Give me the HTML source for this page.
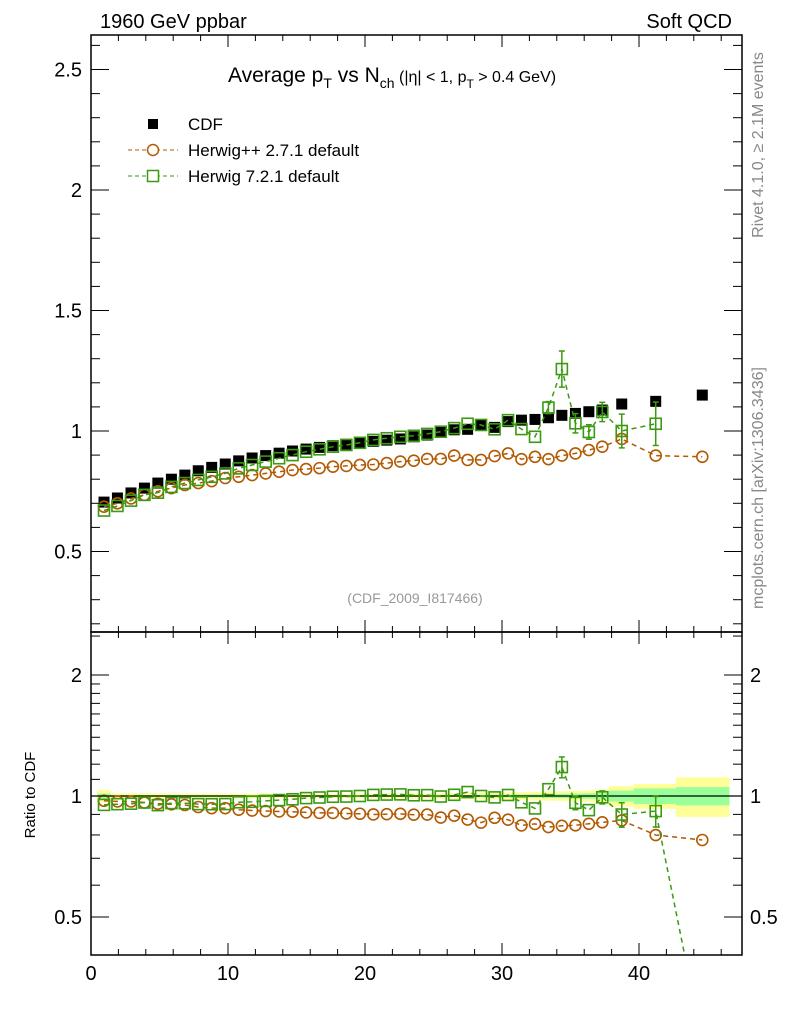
<!DOCTYPE html>
<html><head><meta charset="utf-8"><style>
html,body{margin:0;padding:0;background:#fff;width:786px;height:1024px;overflow:hidden;}
svg{display:block;font-family:"Liberation Sans",Arial,sans-serif;}
</style></head><body>
<svg id="chart" width="786" height="1024" viewBox="0 0 786 1024" xmlns="http://www.w3.org/2000/svg">
<text x="100" y="28" font-size="20">1960 GeV ppbar</text>
<text x="732" y="28" font-size="20" text-anchor="end">Soft QCD</text>
<text transform="translate(763,145) rotate(-90)" font-size="16" fill="#888" text-anchor="middle">Rivet 4.1.0, ≥ 2.1M events</text>
<text transform="translate(763,488) rotate(-90)" font-size="16" fill="#888" text-anchor="middle">mcplots.cern.ch [arXiv:1306.3436]</text>
<text x="228" y="82" font-size="21">Average p<tspan font-size="14" dy="6">T</tspan><tspan dy="-6"> vs N</tspan><tspan font-size="14" dy="6">ch</tspan><tspan dy="-6" font-size="16"> (|η| &lt; 1, p</tspan><tspan font-size="12" dy="6">T</tspan><tspan dy="-6" font-size="16"> &gt; 0.4 GeV)</tspan></text>
<text x="415" y="603" font-size="14" fill="#999" text-anchor="middle">(CDF_2009_I817466)</text>
<text transform="translate(35,795) rotate(-90)" font-size="15" text-anchor="middle">Ratio to CDF</text>
<g id="legend">
 <g><rect x="148" y="119" width="10" height="10" fill="#000"/><text x="188" y="130" font-size="17">CDF</text></g>
 <g><line x1="128" y1="150" x2="178" y2="150" stroke="#b35900" stroke-dasharray="4,3"/><circle cx="153" cy="150" r="5.5" fill="#fff" stroke="#b35900" stroke-width="1.5"/><text x="188" y="156" font-size="17">Herwig++ 2.7.1 default</text></g>
 <g><line x1="128" y1="176" x2="178" y2="176" stroke="#3a9a10" stroke-dasharray="4,3"/><rect x="147.5" y="170.5" width="11" height="11" fill="#fff" stroke="#3a9a10" stroke-width="1.5"/><text x="188" y="182" font-size="17">Herwig 7.2.1 default</text></g>
</g>
<g id="g"></g>
</svg>
<script>
const xs=[0.95,1.93,2.92,3.90,4.88,5.87,6.85,7.83,8.81,9.80,10.78,11.76,12.75,13.73,14.71,15.70,16.68,17.66,18.64,19.63,20.61,21.59,22.58,23.56,24.54,25.53,26.51,27.49,28.47,29.46,30.44,31.42,32.41,33.39,34.37,35.36,36.34,37.32,38.74,41.22,44.62];
const binLo=[0.45,1.44,2.42,3.41,4.39,5.37,6.36,7.34,8.32,9.31,10.29,11.27,12.26,13.24,14.22,15.21,16.19,17.17,18.15,19.14,20.12,21.10,22.09,23.07,24.05,25.04,26.02,27.00,27.98,28.97,29.95,30.93,31.92,32.90,33.88,34.87,35.85,36.83,37.8,39.6,42.7];
const binHi=[1.44,2.42,3.41,4.39,5.37,6.36,7.34,8.32,9.31,10.29,11.27,12.26,13.24,14.22,15.21,16.19,17.17,18.15,19.14,20.12,21.10,22.09,23.07,24.05,25.04,26.02,27.00,27.98,28.97,29.95,30.93,31.92,32.90,33.88,34.87,35.85,36.83,37.8,39.6,42.7,46.6];
const cdf=[0.705,0.722,0.743,0.763,0.784,0.80,0.817,0.835,0.849,0.863,0.876,0.888,0.898,0.908,0.917,0.925,0.932,0.939,0.945,0.951,0.957,0.962,0.967,0.976,0.983,1.0,1.005,1.007,1.025,1.015,1.039,1.045,1.048,1.055,1.065,1.073,1.08,1.087,1.112,1.123,1.149];
const cdfStat=[0.01,0.004,0.004,0.004,0.004,0.004,0.004,0.004,0.004,0.004,0.004,0.004,0.004,0.004,0.004,0.004,0.004,0.004,0.004,0.004,0.005,0.005,0.005,0.005,0.005,0.006,0.006,0.006,0.007,0.008,0.008,0.009,0.01,0.012,0.013,0.015,0.017,0.02,0.035,0.05,0.06];
const cdfTot=[0.025,0.012,0.012,0.012,0.012,0.012,0.012,0.012,0.012,0.012,0.012,0.012,0.012,0.012,0.012,0.012,0.012,0.012,0.012,0.013,0.013,0.014,0.014,0.015,0.015,0.016,0.017,0.018,0.019,0.02,0.022,0.024,0.026,0.028,0.03,0.032,0.035,0.04,0.065,0.08,0.13];
const hpp=[0.686,0.70,0.72,0.735,0.75,0.763,0.776,0.784,0.792,0.805,0.81,0.817,0.824,0.831,0.838,0.842,0.846,0.852,0.855,0.859,0.861,0.867,0.873,0.877,0.884,0.884,0.898,0.88,0.88,0.896,0.907,0.883,0.893,0.883,0.898,0.907,0.921,0.935,0.967,0.898,0.893];
const hppErr=[0.003,0.003,0.003,0.003,0.003,0.003,0.003,0.003,0.003,0.003,0.003,0.003,0.003,0.003,0.003,0.003,0.003,0.003,0.003,0.003,0.004,0.004,0.005,0.005,0.016,0.005,0.006,0.006,0.007,0.007,0.007,0.008,0.008,0.008,0.009,0.01,0.01,0.012,0.015,0.01,0.01];
const h7=[0.67,0.689,0.711,0.735,0.744,0.768,0.784,0.797,0.81,0.824,0.845,0.859,0.873,0.887,0.90,0.914,0.924,0.935,0.942,0.951,0.963,0.97,0.976,0.98,0.988,0.997,1.012,1.03,1.025,1.007,1.045,1.008,0.976,1.097,1.257,1.032,0.996,1.079,1.0,1.03,0.28];
const h7Err=[0.003,0.003,0.003,0.003,0.003,0.003,0.003,0.003,0.003,0.003,0.003,0.003,0.004,0.004,0.004,0.004,0.005,0.005,0.005,0.006,0.006,0.006,0.007,0.007,0.008,0.008,0.01,0.012,0.012,0.013,0.015,0.018,0.02,0.025,0.075,0.04,0.03,0.04,0.07,0.09,0.05];
const h7MainCount=40;
const mainTicks=[0.5,1,1.5,2,2.5];
const mainTickLabels=["0.5","1","1.5","2","2.5"];
const ratioTicks=[0.5,1,2];
const ratioTickLabels=["0.5","1","2"];
const xTicks=[0,10,20,30,40];
const xTickLabels=["0","10","20","30","40"];

const L=91,R=742,T1=35,B1=632,T2=632,B2=955;
const X=v=>L+(v-0)*13.7;
const XMAX=(R-L)/13.7;
const Y1=v=>431-(v-1)*241;
const Y2=v=>796-Math.log2(v)*121;
const NS='http://www.w3.org/2000/svg';
const g=document.getElementById('g');
function mk(t,a,p){const e=document.createElementNS(NS,t);for(const k in a)e.setAttribute(k,a[k]);(p||g).appendChild(e);return e;}

const defs=mk('defs',{});
const c1=mk('clipPath',{id:'c1'},defs);mk('rect',{x:L,y:T1,width:R-L,height:B1-T1},c1);
const c2=mk('clipPath',{id:'c2'},defs);mk('rect',{x:L,y:T2,width:R-L,height:B2-T2},c2);

const bands=mk('g',{'clip-path':'url(#c2)'});


for(let i=0;i<xs.length;i++){
  const rt=cdfTot[i]/cdf[i], rs=cdfStat[i]/cdf[i];
  mk('rect',{x:X(binLo[i]),y:Y2(1+rt),width:X(binHi[i])-X(binLo[i]),height:Y2(1-rt)-Y2(1+rt),fill:'#ffff99'},bands);
  mk('rect',{x:X(binLo[i]),y:Y2(1+rs),width:X(binHi[i])-X(binLo[i]),height:Y2(1-rs)-Y2(1+rs),fill:'#99ff99'},bands);
}
mk('line',{x1:L,x2:R,y1:Y2(1),y2:Y2(1),stroke:'#000','stroke-width':1.3});

function series(vals,errs,color,shape,Yf,clip,name){
  const grp=mk('g',{'clip-path':clip});
  
  
  let d='';
  vals.forEach((v,i)=>{d+=(i?'L':'M')+X(xs[i]).toFixed(1)+','+Yf(v).toFixed(1);});
  mk('path',{d:d,fill:'none',stroke:color,'stroke-width':1.5,'stroke-dasharray':'5,4'},grp);
  vals.forEach((v,i)=>{
    const x=X(xs[i]),y=Yf(v),e=errs[i];
    const yt=Yf(v+e),yb=Yf(Math.max(v-e,0.01));
    if(y-yt>6){mk('line',{x1:x,x2:x,y1:yt,y2:yb,stroke:color,'stroke-width':1.5},grp);
      mk('line',{x1:x-3,x2:x+3,y1:yt,y2:yt,stroke:color,'stroke-width':1.5},grp);
      mk('line',{x1:x-3,x2:x+3,y1:yb,y2:yb,stroke:color,'stroke-width':1.5},grp);}
    let m;
    if(shape==='c') m=mk('circle',{cx:x,cy:y,r:5.5,fill:'none',stroke:color,'stroke-width':1.6},grp);
    else m=mk('rect',{x:x-5.5,y:y-5.5,width:11,height:11,fill:'none',stroke:color,'stroke-width':1.6},grp);
    
    
  });
}
const cg=mk('g',{'clip-path':'url(#c1)'});


cdf.forEach((v,i)=>{const r=mk('rect',{x:X(xs[i])-5.5,y:Y1(v)-5.5,width:11,height:11,fill:'#000'},cg);
  
  });
series(hpp,hppErr,'#b35900','c',Y1,'url(#c1)','herwigpp-series');
series(h7.slice(0,h7MainCount),h7Err,'#3a9a10','s',Y1,'url(#c1)','herwig7-series');
series(hpp.map((v,i)=>v/cdf[i]),hppErr.map((v,i)=>v/cdf[i]),'#b35900','c',Y2,'url(#c2)','herwigpp-ratio');
series(h7.map((v,i)=>v/cdf[i]),h7Err.map((v,i)=>v/cdf[i]),'#3a9a10','s',Y2,'url(#c2)','herwig7-ratio');

const fr=mk('g',{});


mk('rect',{x:L,y:T1,width:R-L,height:B1-T1,fill:'none',stroke:'#000','stroke-width':1.5},fr);
mk('rect',{x:L,y:T2,width:R-L,height:B2-T2,fill:'none',stroke:'#000','stroke-width':1.5},fr);
for(let v=0;v<=XMAX;v+=2){const x=X(v),big=v%10===0,len=big?12:6;
  [T1,T2].forEach(t=>mk('line',{x1:x,x2:x,y1:t,y2:t+len,stroke:'#000'},fr));
  [B1,B2].forEach(b=>mk('line',{x1:x,x2:x,y1:b,y2:b-len,stroke:'#000'},fr));}
xTicks.forEach((v,i)=>{const t=mk('text',{x:X(v),y:980,'font-size':20,'text-anchor':'middle'},fr);t.textContent=xTickLabels[i];});
for(let k=2;k<=26;k++){const v=k/10,y=Y1(v),big=k%5===0,len=big?18:9;
  mk('line',{x1:L,x2:L+len,y1:y,y2:y,stroke:'#000'},fr);mk('line',{x1:R,x2:R-len,y1:y,y2:y,stroke:'#000'},fr);}
mainTicks.forEach((v,i)=>{const t=mk('text',{x:82,y:Y1(v)+7,'font-size':20,'text-anchor':'end'},fr);t.textContent=mainTickLabels[i];});
[0.4,0.5,0.6,0.7,0.8,0.9,1,1.1,1.2,1.3,1.4,1.5,1.6,1.7,1.8,1.9,2,2.5].forEach(v=>{const y=Y2(v);if(y<T2||y>B2)return;
  const big=(v===0.5||v===1||v===2),len=big?18:9;
  mk('line',{x1:L,x2:L+len,y1:y,y2:y,stroke:'#000'},fr);mk('line',{x1:R,x2:R-len,y1:y,y2:y,stroke:'#000'},fr);});
ratioTicks.forEach((v,i)=>{const t=mk('text',{x:82,y:Y2(v)+7,'font-size':20,'text-anchor':'end'},fr);t.textContent=ratioTickLabels[i];
  const t2=mk('text',{x:750,y:Y2(v)+7,'font-size':20},fr);t2.textContent=ratioTickLabels[i];});
</script>
</body></html>
